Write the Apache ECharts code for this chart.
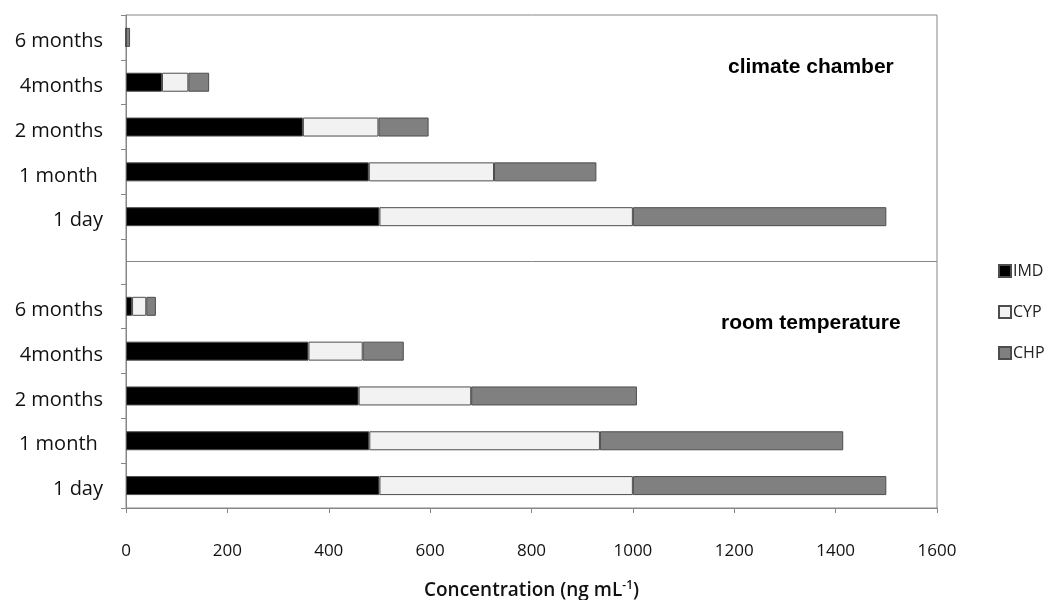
<!DOCTYPE html>
<html>
<head>
<meta charset="utf-8">
<script src="https://cdn.jsdelivr.net/npm/echarts@6/dist/echarts.min.js"></script>
<style>html,body{margin:0;padding:0;background:#fff;}#c{width:1052px;height:600px;}</style>
</head>
<body>
<div id="c"></div>
<script>
// Categories top to bottom: climate chamber block, gap, room temperature block
var categories = ['6 months', '4months', '2 months', '1 month ', '1 day', '', '6 months', '4months', '2 months', '1 month ', '1 day'];
var imd = [0, 71, 349, 479, 500, null, 12, 360, 459, 480, 500];
var cyp = [0, 52, 149, 247, 500, null, 28, 107, 222, 455, 500];
var chp = [8, 41, 99, 202, 500, null, 19, 81, 327, 480, 500];
var xTicks = { min: 0, max: 1600, interval: 200 };
var panelLabels = ['climate chamber', 'room temperature'];
var dividerIndex = 5;

var axisGray = '#868686';
var borderGray = '#4d4d4d';
var chart = echarts.init(document.getElementById('c'), null, { renderer: 'canvas' });

function barSeries(name, data, color, extra) {
  var s = {
    name: name,
    type: 'bar',
    stack: 'total',
    data: data,
    barWidth: 19,
    itemStyle: { color: color, borderColor: borderGray, borderWidth: 1 },
    emphasis: { disabled: true },
    animation: false
  };
  if (extra) { for (var k in extra) s[k] = extra[k]; }
  return s;
}

chart.setOption({
  backgroundColor: '#fff',
  animation: false,
  textStyle: { fontFamily: 'Open Sans' },
  title: [
    { text: panelLabels[0], left: 723, top: 52, textStyle: { fontFamily: 'Liberation Sans', fontWeight: 'bold', fontSize: 21, color: '#000' } },
    { text: panelLabels[1], left: 716, top: 308, textStyle: { fontFamily: 'Liberation Sans', fontWeight: 'bold', fontSize: 21, color: '#000' } }
  ],
  legend: {
    orient: 'vertical',
    left: 993,
    top: 258,
    itemWidth: 12,
    itemHeight: 12,
    itemGap: 25,
    icon: 'rect',
    textStyle: { fontFamily: 'Open Sans', fontSize: 16, color: '#222', padding: [0, 0, 0, -3] },
    data: ['IMD', 'CYP', 'CHP']
  },
  grid: {
    left: 126, right: 115, top: 15, bottom: 92,
    outerBoundsMode: 'none',
    containLabel: false,
    show: true, borderColor: axisGray, borderWidth: 1, backgroundColor: 'transparent'
  },
  xAxis: {
    type: 'value',
    min: xTicks.min, max: xTicks.max, interval: xTicks.interval,
    name: '{a|Concentration (ng mL}{s|-1}{a|)}',
    nameLocation: 'middle',
    nameGap: 72,
    nameTextStyle: {
      rich: {
        a: { fontFamily: 'Open Sans', fontSize: 19, color: '#111', fontWeight: 600 },
        s: { fontFamily: 'Open Sans', fontSize: 12, color: '#111', fontWeight: 600, verticalAlign: 'top', padding: [0, 0, 10, 0] }
      }
    },
    axisLine: { show: true, lineStyle: { color: axisGray, width: 1 } },
    axisTick: { show: true, length: 5, lineStyle: { color: axisGray } },
    axisLabel: {
      margin: 35, fontFamily: 'Open Sans', fontSize: 17, color: '#111',
      formatter: function (v) { return String(v); }
    },
    splitLine: { show: false }
  },
  yAxis: {
    type: 'category',
    inverse: true,
    data: categories,
    boundaryGap: true,
    axisLine: { show: true, lineStyle: { color: axisGray, width: 1 } },
    axisTick: { show: true, length: 5, interval: 0, lineStyle: { color: axisGray } },
    axisLabel: { interval: 0, margin: 23, fontFamily: 'Open Sans', fontSize: 20, color: '#111', verticalAlign: 'top', lineHeight: 8 },
    splitLine: { show: false }
  },
  series: [
    barSeries('IMD', imd, '#000000', {
      markLine: {
        silent: true,
        symbol: 'none',
        animation: false,
        label: { show: false },
        lineStyle: { color: axisGray, type: 'solid', width: 1 },
        data: [{ yAxis: dividerIndex }]
      }
    }),
    barSeries('CYP', cyp, '#f2f2f2'),
    barSeries('CHP', chp, '#808080')
  ]
});
</script>
</body>
</html>
